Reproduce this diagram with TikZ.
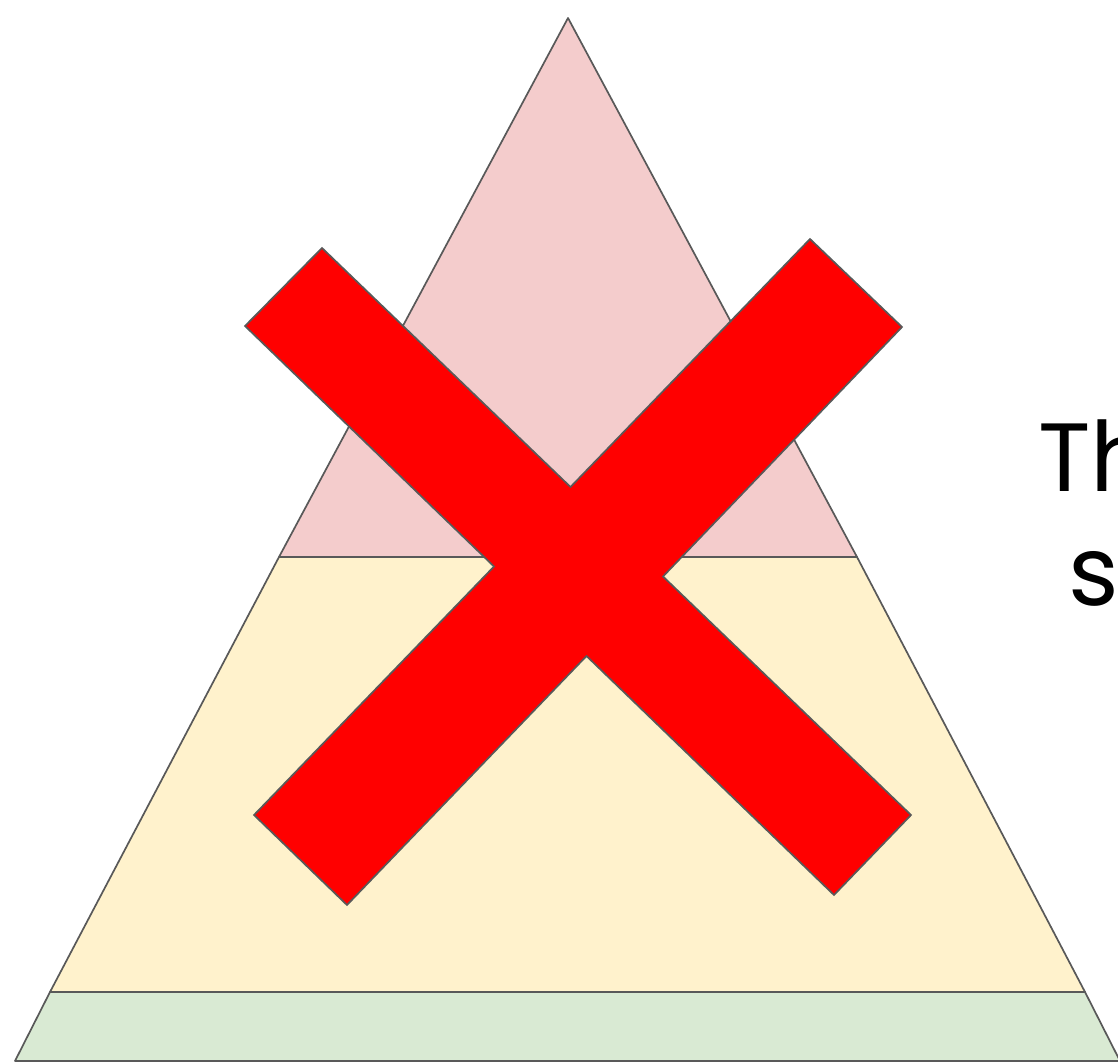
\documentclass[tikz,border=0pt]{standalone}
\usepackage{fontspec}
\setmainfont{Poppins}
\definecolor{pinkband}{HTML}{F4CCCC}
\definecolor{yellowband}{HTML}{FFF2CC}
\definecolor{greenband}{HTML}{D9EAD3}
\definecolor{edgegray}{HTML}{595959}
\begin{document}
\begin{tikzpicture}[x=1pt,y=-1pt,
  band/.style={draw=edgegray,line width=1.7pt,line join=round},
  cross/.style={fill=red,draw=edgegray,line width=1.7pt,line join=miter},
  bigtext/.style={font=\fontsize{97}{116}\selectfont,inner sep=0pt,text=black}]
\useasboundingbox (0,0) rectangle (1118,1064);
\clip (0,0) rectangle (1118,1064);
\fill[white] (0,0) rectangle (1118,1064);
% pyramid bands
\filldraw[band,fill=greenband] (50,992) -- (1085,992) -- (1120,1061) -- (15,1061) -- cycle;
\filldraw[band,fill=yellowband] (279,557) -- (857,557) -- (1085,992) -- (50,992) -- cycle;
\filldraw[band,fill=pinkband] (568,18) -- (857,557) -- (279,557) -- cycle;
% red cross
\filldraw[cross] (245,326) -- (322,248) -- (570.5,487) -- (810,239) -- (902,327)
  -- (663,576.5) -- (911,815) -- (834,895) -- (586.5,656) -- (347,905)
  -- (254,815) -- (494,566.5) -- cycle;
% text (cut off at the right edge, as in the reference)
\node[bigtext,anchor=base west] (t1) at (1038,491) {Th};
\node[bigtext,anchor=base west] (t2) at (1068,605) {s};
\end{tikzpicture}
\end{document}
